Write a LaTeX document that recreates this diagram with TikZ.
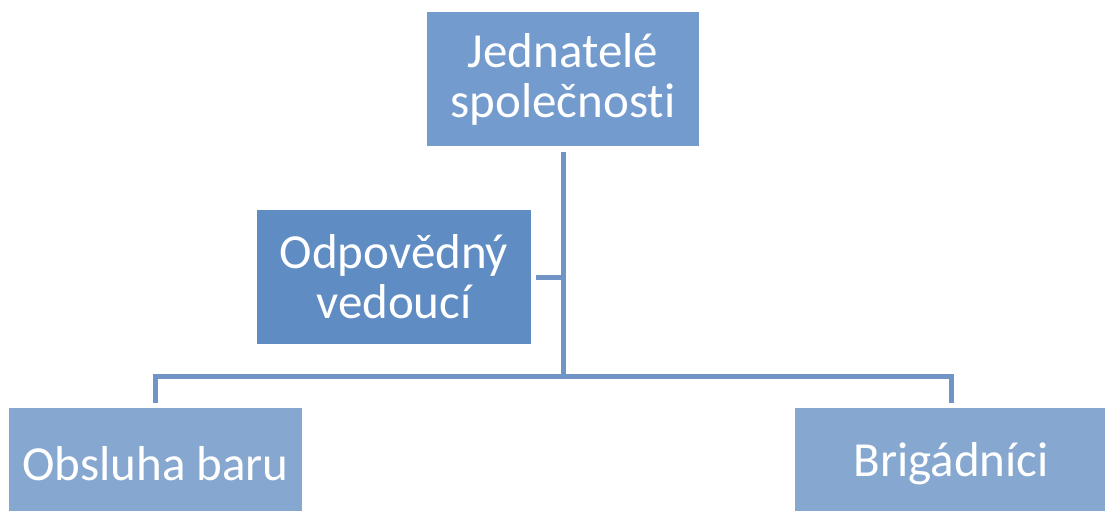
\documentclass[tikz,border=0pt]{standalone}
\usepackage{fontspec}
\setmainfont[Ligatures=NoCommon]{Carlito}
\usetikzlibrary{positioning}
\definecolor{topblue}{RGB}{115,155,205}
\definecolor{midblue}{RGB}{96,140,196}
\definecolor{lowblue}{RGB}{134,168,208}
\definecolor{linkblue}{RGB}{112,148,198}

\begin{document}
\begin{tikzpicture}[x=1pt,y=-1pt,
	box/.style={draw=none,text=white,align=center,inner sep=0pt,font=\fontsize{49}{50}\selectfont},
	link/.style={draw=linkblue,line width=5pt}]
	\useasboundingbox (0,0) rectangle (1105,511);
	\clip (0,0) rectangle (1105,511);
	
	\node[box,fill=topblue,minimum width=272pt,minimum height=134pt] (jed) at (563,79) {Jednatelé\\společnosti};
	
	\node[box,fill=midblue,minimum width=274pt,minimum height=134pt] (ved) at (394,277) {Odpovědný\\vedoucí};
	
	\node[box,fill=lowblue,minimum width=293pt,minimum height=112pt] (obs) at (155.5,464) {Obsluha baru};
	
	\node[box,fill=lowblue,minimum width=312pt,minimum height=112pt] (bri) at (951,464) {Brigádníci};
	
	\coordinate (hub) at (563,376);
	
	\draw[link] ([yshift=-6pt]jed.south) -- (hub);
	\draw[link] ([xshift=5pt]ved.east) -- (ved.east -| hub);
	\draw[link] ([yshift=5pt]obs.north) -- (obs.north |- hub) -- (bri.north |- hub) -- ([yshift=5pt]bri.north);
\end{tikzpicture}
\end{document}
